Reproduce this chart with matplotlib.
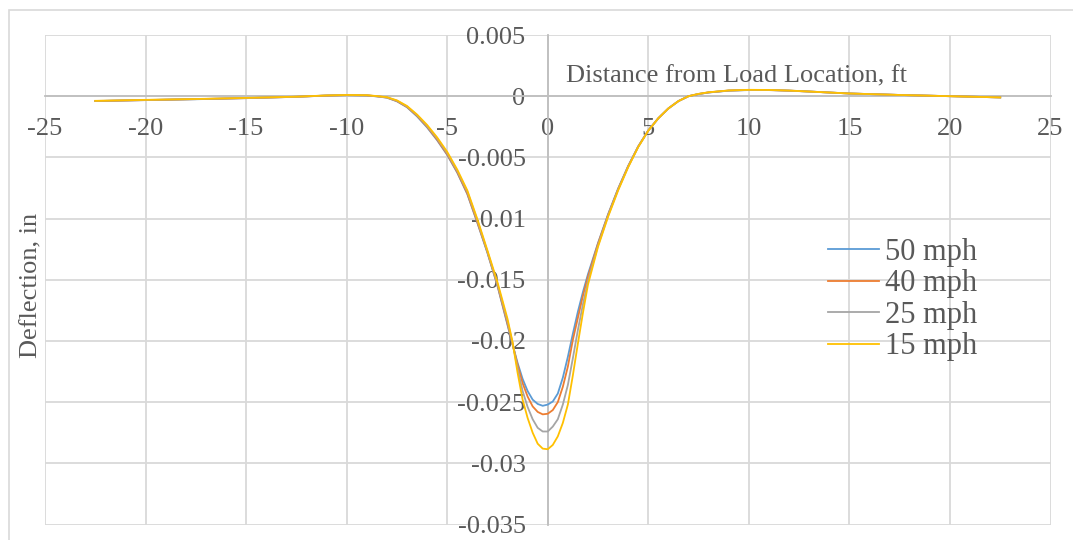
import numpy as np
import matplotlib
matplotlib.use("Agg")
import matplotlib.pyplot as plt
from matplotlib.ticker import FuncFormatter, MultipleLocator
from matplotlib.patches import Rectangle

plt.rcParams['font.family'] = ['Liberation Serif', 'DejaVu Serif']
plt.rcParams['axes.unicode_minus'] = False

# distance from load location, ft
x = [-22.5, -20, -17.5, -15, -12.5, -11, -10, -9, -8.5, -8,
     -7.5, -7, -6.5, -6, -5.5, -5, -4.5, -4, -3.5, -3,
     -2.5, -2, -1.75, -1.5, -1.25, -1, -0.75, -0.5, -0.25, 0,
     0.25, 0.5, 0.75, 1, 1.25, 1.5, 1.75, 2, 2.5, 3,
     3.5, 4, 4.5, 5, 5.5, 6, 6.5, 7, 7.5, 8,
     9, 10, 11, 12, 13, 15, 17.5, 20, 22.5]

# deflection, in
mph50 = [-0.00040, -0.00032, -0.00025, -0.00016, -0.00005, 0.00005, 0.00009, 0.00006, -0.00002, -0.00012,
         -0.00042, -0.00090, -0.00165, -0.00255, -0.00360, -0.00480, -0.00625, -0.00800, -0.01035, -0.01280,
         -0.01550, -0.01870, -0.02030, -0.02180, -0.02310, -0.02410, -0.02480, -0.02515, -0.02530, -0.02520,
         -0.02495, -0.02430, -0.02300, -0.02130, -0.01940, -0.01760, -0.01600, -0.01455, -0.01200, -0.00965,
         -0.00755, -0.00570, -0.00410, -0.00280, -0.00180, -0.00100, -0.00040, 0.00000, 0.00017, 0.00030,
         0.00045, 0.00050, 0.00050, 0.00045, 0.00038, 0.00022, 0.00010, 0.00000, -0.00010]

mph40 = [-0.00040, -0.00032, -0.00024, -0.00016, -0.00005, 0.00005, 0.00009, 0.00007, -0.00001, -0.00011,
         -0.00040, -0.00088, -0.00160, -0.00250, -0.00355, -0.00475, -0.00620, -0.00795, -0.01030, -0.01275,
         -0.01545, -0.01860, -0.02025, -0.02195, -0.02345, -0.02455, -0.02535, -0.02580, -0.02600, -0.02595,
         -0.02565, -0.02500, -0.02375, -0.02210, -0.01990, -0.01810, -0.01630, -0.01475, -0.01205, -0.00970,
         -0.00758, -0.00572, -0.00411, -0.00280, -0.00180, -0.00100, -0.00040, 0.00000, 0.00018, 0.00031,
         0.00046, 0.00051, 0.00050, 0.00045, 0.00038, 0.00022, 0.00010, 0.00000, -0.00010]

mph25 = [-0.00039, -0.00031, -0.00024, -0.00015, -0.00005, 0.00006, 0.00010, 0.00007, 0.00000, -0.00010,
         -0.00037, -0.00084, -0.00155, -0.00243, -0.00345, -0.00465, -0.00610, -0.00780, -0.01015, -0.01270,
         -0.01535, -0.01840, -0.02015, -0.02225, -0.02410, -0.02540, -0.02640, -0.02710, -0.02740, -0.02740,
         -0.02700, -0.02640, -0.02520, -0.02360, -0.02140, -0.01910, -0.01700, -0.01510, -0.01220, -0.00977,
         -0.00763, -0.00576, -0.00413, -0.00281, -0.00180, -0.00100, -0.00040, 0.00000, 0.00018, 0.00031,
         0.00046, 0.00051, 0.00051, 0.00046, 0.00038, 0.00022, 0.00010, 0.00000, -0.00010]

mph15 = [-0.00038, -0.00030, -0.00023, -0.00014, -0.00004, 0.00006, 0.00010, 0.00008, 0.00001, -0.00008,
         -0.00034, -0.00080, -0.00150, -0.00235, -0.00337, -0.00455, -0.00600, -0.00770, -0.01005, -0.01260,
         -0.01520, -0.01820, -0.02010, -0.02260, -0.02480, -0.02630, -0.02750, -0.02840, -0.02880, -0.02885,
         -0.02850, -0.02780, -0.02670, -0.02520, -0.02280, -0.02020, -0.01770, -0.01540, -0.01230, -0.00985,
         -0.00770, -0.00580, -0.00415, -0.00282, -0.00180, -0.00100, -0.00040, 0.00000, 0.00019, 0.00032,
         0.00047, 0.00052, 0.00051, 0.00046, 0.00038, 0.00022, 0.00010, 0.00000, -0.00010]

labels = ["50 mph", "40 mph", "25 mph", "15 mph"]
colors = ["#5B9BD5", "#ED7D31", "#A5A5A5", "#FFC000"]

W, H = 1073, 540
fig = plt.figure(figsize=(W / 100, H / 100), dpi=100)
ax = fig.add_axes([45 / W, 1 - 524.5 / H, (1050.5 - 45) / W, (524.5 - 35) / H])

# chart border
fig.patches.append(Rectangle((9 / W, -0.1), 1.2, 1 - 10 / H + 0.1, transform=fig.transFigure,
                             fill=False, edgecolor="#d9d9d9", lw=1.2))

for ys, lab, c in zip([mph50, mph40, mph25, mph15], labels, colors):
    ax.plot(x, ys, color=c, lw=1.3, label=lab, zorder=3)

ax.set_xlim(-25, 25)
ax.set_ylim(-0.035, 0.005)
ax.xaxis.set_major_locator(MultipleLocator(5))
ax.yaxis.set_major_locator(MultipleLocator(0.005))
ax.xaxis.set_major_formatter(FuncFormatter(lambda v, p: "%g" % round(v, 6)))
ax.yaxis.set_major_formatter(FuncFormatter(lambda v, p: "%g" % round(v, 6)))
ax.grid(True, color="#d9d9d9", lw=1.3)
ax.set_axisbelow(True)

ax.spines['bottom'].set_position(('data', 0))
ax.spines['left'].set_position(('data', 0))
for s in ['bottom', 'left']:
    ax.spines[s].set_color("#bfbfbf")
    ax.spines[s].set_linewidth(1.3)
    ax.spines[s].set_zorder(1)
for s in ['top', 'right']:
    ax.spines[s].set_visible(False)

ax.tick_params(axis='both', length=0, labelsize=19, labelcolor="#595959")
ax.tick_params(axis='x', pad=16)
ax.tick_params(axis='y', pad=16)

fig.text(566 / W, 1 - 82 / H, "Distance from Load Location, ft", fontsize=19,
         color="#595959", ha='left', va='baseline')
fig.text(31 / W, 1 - 285 / H, "Deflection, in", fontsize=19, color="#595959",
         rotation=90, ha='center', va='center')

leg = ax.legend(loc='upper left', bbox_to_anchor=(828 / W, 1 - 238 / H),
                bbox_transform=fig.transFigure, frameon=False, fontsize=22,
                labelspacing=0.08, handlelength=1.68, handletextpad=0.2,
                borderpad=0, borderaxespad=0)
for t in leg.get_texts():
    t.set_color("#595959")

fig.savefig("out.png", dpi=100)
